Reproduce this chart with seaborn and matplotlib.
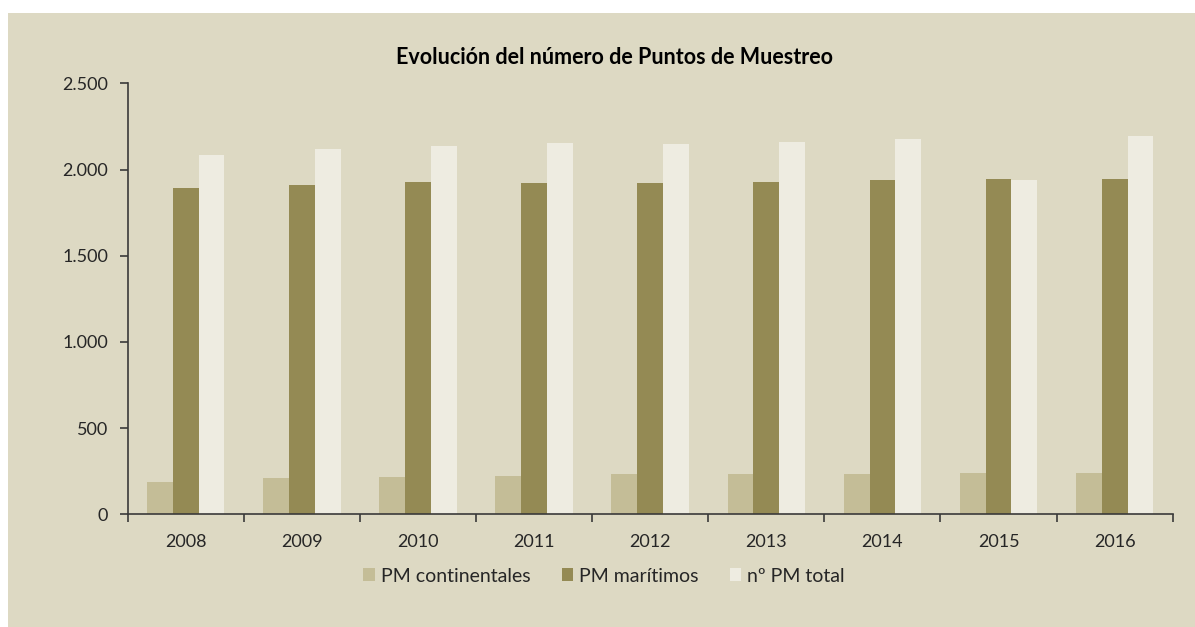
import matplotlib
matplotlib.use("Agg")
import matplotlib.pyplot as plt
import matplotlib.ticker as mticker
from matplotlib.patches import Rectangle, Patch
import seaborn as sns
import pandas as pd

years = ["2008", "2009", "2010", "2011", "2012", "2013", "2014", "2015", "2016"]
pm_continentales = [185, 208, 215, 223, 231, 231, 231, 237, 237]
pm_maritimos = [1890, 1908, 1929, 1919, 1919, 1929, 1937, 1942, 1942]
pm_total = [2083, 2117, 2134, 2152, 2150, 2157, 2175, 1940, 2192]
series_names = ["PM continentales", "PM marítimos", "nº PM total"]
title = "Evolución del número de Puntos de Muestreo"

colors = ["#C4BD97", "#948A54", "#EEECE1"]
bg = "#DDD9C3"
txt = "#262626"

rows = []
for name, vals in zip(series_names, [pm_continentales, pm_maritimos, pm_total]):
    for y, v in zip(years, vals):
        rows.append({"year": y, "serie": name, "valor": v})
df = pd.DataFrame(rows)

sns.set_theme(style="white")
plt.rcParams["font.family"] = ["Lato", "DejaVu Sans"]

W, H = 1195, 627
fig = plt.figure(figsize=(W / 100, H / 100), dpi=100, facecolor="white")
fig.patches.append(Rectangle((8 / W, 0), 1 - 8 / W, (H - 13) / H,
                             transform=fig.transFigure, facecolor=bg,
                             edgecolor="none", zorder=-10))

ax = fig.add_axes([127.7 / W, 1 - 514.3 / H, (1172.7 - 127.7) / W, (514.3 - 83.3) / H])
ax.set_facecolor(bg)
ax.set_zorder(1)

sns.barplot(data=df, x="year", y="valor", hue="serie", order=years,
            hue_order=series_names, palette=colors, width=0.667, gap=0,
            saturation=1, linewidth=0, ax=ax, legend=False)

ax.set_xlim(-0.5, len(years) - 0.5)
ax.set_ylim(0, 2500)
ax.set_yticks([0, 500, 1000, 1500, 2000, 2500])
ax.yaxis.set_major_formatter(mticker.FuncFormatter(lambda v, p: f"{int(v):,}".replace(",", ".")))
ax.set_xlabel("")
ax.set_ylabel("")

for s in ["top", "right"]:
    ax.spines[s].set_visible(False)
for s in ["left", "bottom"]:
    ax.spines[s].set_color("#3a3a3a")
    ax.spines[s].set_linewidth(1.2)

ax.tick_params(axis="y", which="major", direction="out", length=6, width=1.2,
               color="#3a3a3a", labelsize=13, labelcolor=txt, pad=8, left=True)
ax.tick_params(axis="x", which="major", length=0, labelsize=13, labelcolor=txt, pad=14)
ax.set_xticks([i - 0.5 for i in range(len(years) + 1)], minor=True)
ax.tick_params(axis="x", which="minor", direction="out", length=6, width=1.2,
               color="#3a3a3a", bottom=True)

fig.text(614 / W, 1 - 58 / H, title, ha="center", va="center",
         fontsize=15.5, fontweight="bold", color="black")

handles = [Patch(facecolor=c, edgecolor="none") for c in colors]
fig.legend(handles, series_names, loc="center", bbox_to_anchor=(604 / W, 1 - 576 / H),
           ncol=3, frameon=False, fontsize=14, handlelength=0.6, handleheight=0.6,
           handletextpad=0.3, columnspacing=1.6, labelcolor=txt)

fig.savefig("out.png", dpi=100, facecolor="white")
